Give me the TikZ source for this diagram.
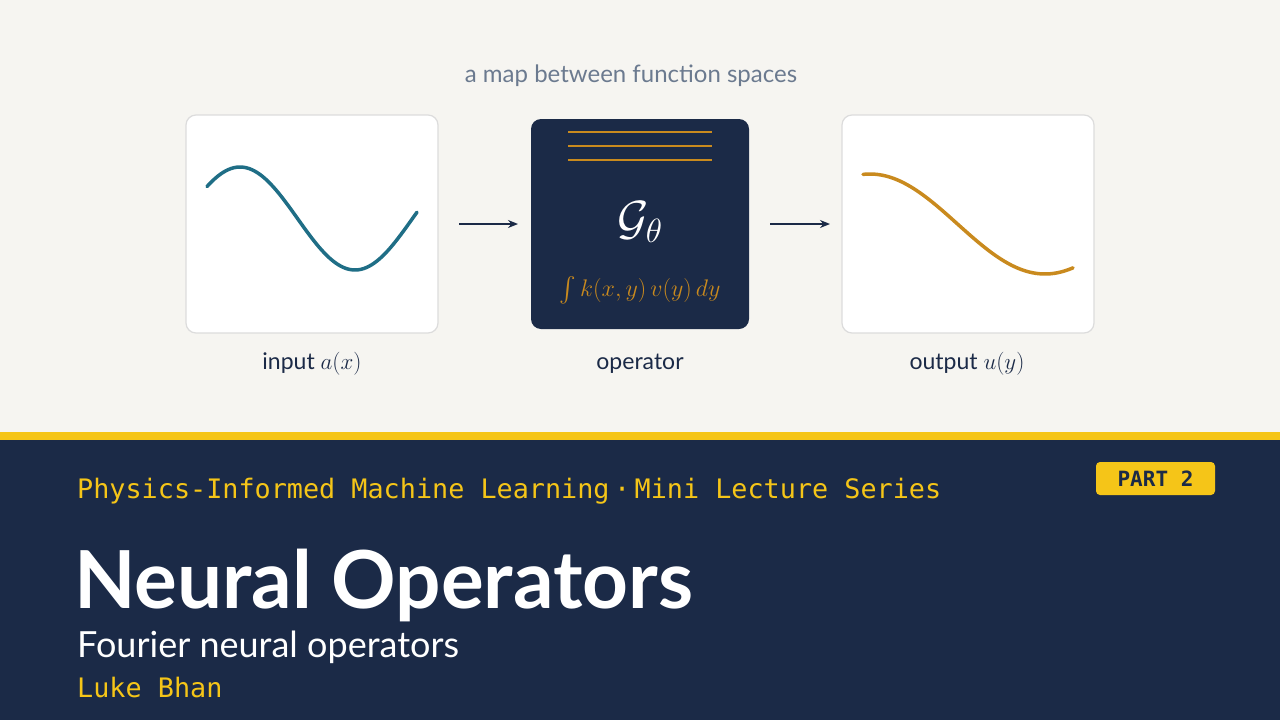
\RequirePackage{fix-cm}
\documentclass[tikz,border=0pt]{standalone}
\usepackage{exscale}
\usepackage{fontspec}
\setsansfont{Lato}
\setmonofont{DejaVu Sans Mono}
\usetikzlibrary{arrows.meta}
\definecolor{bgtop}{HTML}{F6F5F1}
\definecolor{navy}{HTML}{1B2A47}
\definecolor{gold}{HTML}{F5C518}
\definecolor{teal}{HTML}{1F6E86}
\definecolor{ochre}{HTML}{C98A1E}
\definecolor{capgray}{HTML}{6B7A8F}
\definecolor{boxline}{HTML}{DCDCDC}
\tikzset{
 panel/.style={draw=boxline,line width=1.2pt,fill=white,rounded corners=10pt},
 lbl/.style={font=\sffamily\fontsize{23}{26}\selectfont,text=navy,anchor=base},
 arr/.style={-{Stealth[length=10pt,width=8pt]},line width=1.8pt,draw=navy},
}
\begin{document}
\begin{tikzpicture}[x=1pt,y=-1pt]
\useasboundingbox (0,0) rectangle (1280,720);
\fill[bgtop] (0,0) rectangle (1280,432);
\fill[gold] (0,432) rectangle (1280,440);
\fill[navy] (0,440) rectangle (1280,720);
\node[font=\sffamily\fontsize{24}{28}\selectfont,text=capgray,anchor=base] (cap) at (631,82) {a map between function spaces};
\node[panel,minimum width=252pt,minimum height=218pt] (in) at (312,224) {};
\node[draw=none,fill=navy,rounded corners=10pt,minimum width=218pt,minimum height=210pt] (op) at (640,224) {};
\node[panel,minimum width=252pt,minimum height=218pt] (out) at (968,224) {};
\coordinate (a1) at (459,224); \coordinate (a2) at (518,224);
\coordinate (b1) at (770,224); \coordinate (b2) at (830,224);
\draw[arr] (a1) -- (a2);
\draw[arr] (b1) -- (b2);
\foreach \yy in {132,146,160} \draw[ochre,line width=2pt] (568,\yy) -- (712,\yy);
\node[text=white,font=\fontsize{48}{52}\selectfont] (g) at (640,222) {$\mathcal{G}_\theta$};
\node[text=ochre,font=\fontsize{24}{28}\selectfont] (k) at (640,290) {$\int k(x,y)\,v(y)\,dy$};
\draw[teal,line width=3.5pt,line cap=round] plot[domain=207:417,samples=80,smooth] (\x,{218.5-51.5*cos((\x-240)*1.5652)});
\draw[ochre,line width=3.5pt,line cap=round] plot[domain=863:1073,samples=80,smooth] (\x,{224-50*cos((\x-870)*1.02857)});
\node[lbl] (l1) at (312,369) {input $a(x)$};
\node[lbl] (l2) at (640,369) {operator};
\node[lbl] (l3) at (967,369) {output $u(y)$};
\node[anchor=base west,inner sep=0,text=gold,font=\ttfamily\fontsize{26.8}{30}\selectfont] (series) at (77,498) {Physics-Informed Machine Learning\,·\,Mini Lecture Series};
\node[fill=gold,rounded corners=4pt,minimum width=119pt,minimum height=33pt,text=navy,font=\ttfamily\bfseries\fontsize{21}{24}\selectfont] (part) at (1155.5,478.5) {PART 2};
\node[anchor=base west,inner sep=0,text=white,font=\sffamily\bfseries\fontsize{80}{84}\selectfont] (title) at (74,608) {Neural Operators};
\node[anchor=base west,inner sep=0,text=white,font=\sffamily\fontsize{36}{40}\selectfont] (sub) at (77,657) {Fourier neural operators};
\node[anchor=base west,inner sep=0,text=gold,font=\ttfamily\fontsize{26.8}{30}\selectfont] (auth) at (77,697) {Luke Bhan};
\end{tikzpicture}
\end{document}
